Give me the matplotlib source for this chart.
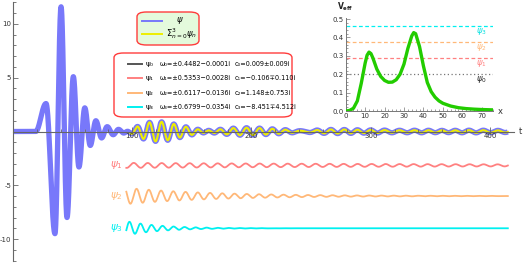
import numpy as np
import matplotlib
matplotlib.use("Agg")
import matplotlib.pyplot as plt
from matplotlib.patches import FancyBboxPatch
from matplotlib.ticker import MultipleLocator, FixedLocator

plt.rcParams["axes.unicode_minus"] = False

# ---------------- data ----------------
# early part of the full waveform psi: extrema (time, value)
early_t = [0, 19, 27.7, 35.2, 40.3, 45.3, 50.6, 55.3, 60.2, 64.8, 69.5, 74.3, 79.0, 84.0, 88.5, 93.0, 97.0]
early_v = [0, 0, 2.6, -9.5, 11.6, -8.0, 5.1, -3.3, 2.2, -1.3, 1.0, -0.6, 0.45, -0.3, 0.2, -0.15, 0.1]

# quasinormal modes from the legend: omega = ±omega_re - i omega_im, c = c_re ± i c_im
omega_re = [0.4482, 0.5353, 0.6117, 0.6799]
omega_im = [0.0001, 0.0028, 0.0136, 0.0354]
c_re = [0.009, -0.106, 1.148, -8.451]
c_im = [0.009, -0.110, 0.753, -4.512]
legend_rows = [
    ("ψ₀", "ω₀=±0.4482−0.0001i", "c₀=0.009±0.009i"),
    ("ψ₁", "ω₁=±0.5353−0.0028i", "c₁=−0.106∓0.110i"),
    ("ψ₂", "ω₂=±0.6117−0.0136i", "c₂=1.148±0.753i"),
    ("ψ₃", "ω₃=±0.6799−0.0354i", "c₃=−8.451∓4.512i"),
]

# effective potential
veff_x = [0, 2, 4, 6, 8, 10, 11, 12, 13, 14, 16, 18, 20, 22, 24, 26, 28, 30, 32, 34, 35, 36,
          38, 40, 42, 44, 46, 48, 50, 54, 58, 62, 66, 70, 76]
veff_v = [0.0, 0.003, 0.015, 0.055, 0.15, 0.26, 0.303, 0.32, 0.312, 0.288, 0.228, 0.188, 0.166,
          0.156, 0.157, 0.17, 0.2, 0.255, 0.34, 0.408, 0.426, 0.42, 0.35, 0.245, 0.155, 0.105,
          0.075, 0.055, 0.042, 0.027, 0.018, 0.013, 0.010, 0.008, 0.006]

# ---------------- styles ----------------
mode_colors = ["#555555", "#ff8080", "#ffb878", "#00f0f0"]
offsets = [None, -3.15, -6.0, -9.0]
blue = "#7878fa"
yellow = "#eeee00"
red_border = "#ff3c3c"

def mode(n, t):
    return 2 * np.exp(-omega_im[n] * t) * (c_re[n] * np.cos(omega_re[n] * t)
                                            + c_im[n] * np.sin(omega_re[n] * t))

def early(t):
    et = np.array(early_t); ev = np.array(early_v)
    out = np.zeros_like(t)
    for i in range(len(et) - 1):
        m = (t >= et[i]) & (t <= et[i + 1])
        s = (t[m] - et[i]) / (et[i + 1] - et[i])
        out[m] = ev[i] + (ev[i + 1] - ev[i]) * (1 - np.cos(np.pi * s)) / 2
    return out

fig = plt.figure(figsize=(5.25, 2.63), dpi=100)
ax = fig.add_axes([0, 0, 1, 1])
ax.set_xlim(-10.9, 429.4)
ax.set_ylim(-12.23, 12.23)
ax.patch.set_alpha(0)

t = np.linspace(0, 415, 6000)
qsum = sum(mode(n, t) for n in range(4))
w = np.clip((t - 92) / 7, 0, 1)
w = (1 - np.cos(np.pi * w)) / 2
psi = (1 - w) * early(np.minimum(t, 97)) + w * qsum
ax.plot(t, psi, color=blue, lw=3.8, solid_capstyle="butt", zorder=3)

ty = t[t >= 98.5]
ax.plot(ty, sum(mode(n, ty) for n in range(4)), color=yellow, lw=1.5, zorder=4)

tm = t[t >= 95]
for n in range(1, 4):
    ax.plot(tm, mode(n, tm) + offsets[n], color=mode_colors[n], lw=1.3, zorder=3)
    ax.text(87, offsets[n], r"$\psi_{%d}$" % n, color=mode_colors[n], fontsize=7.5,
            ha="center", va="center")

# axes styling (Mathematica-like axes through origin)
for s in ["top", "right"]:
    ax.spines[s].set_visible(False)
ax.spines["left"].set_position(("data", 0))
ax.spines["bottom"].set_position(("data", 0))
ax.spines["left"].set_bounds(-12, 12)
ax.spines["bottom"].set_bounds(0, 420)
for s in ["left", "bottom"]:
    ax.spines[s].set_color("#666666")
    ax.spines[s].set_linewidth(0.8)
    ax.spines[s].set_zorder(5)
ax.xaxis.set_zorder(6)
ax.yaxis.set_zorder(6)
ax.set_yticks([-10, -5, 5, 10])
ax.set_xticks([100, 200, 300, 400])
ax.yaxis.set_minor_locator(FixedLocator([v for v in range(-12, 13) if v % 5 != 0]))
ax.xaxis.set_minor_locator(FixedLocator([v for v in range(20, 420, 20) if v % 100 != 0]))
ax.tick_params(which="both", direction="in", colors="#666666", labelcolor="#333333",
               labelsize=5, width=0.6)
ax.tick_params(which="major", length=3.5, pad=1.2)
ax.tick_params(which="minor", length=2)
ax.text(424, 0, "t", fontsize=6, ha="left", va="center", color="#333333")

# legend boxes
def px_box(x0, y0, x1, y1, fc):
    H = 263.0; W = 525.0
    p = FancyBboxPatch((x0 / W, 1 - y1 / H), (x1 - x0) / W, (y1 - y0) / H,
                       boxstyle="round,pad=0,rounding_size=0.018", transform=fig.transFigure,
                       facecolor=fc, edgecolor=red_border, lw=1.0, zorder=10)
    fig.add_artist(p)

def fx(x): return x / 525.0
def fy(y): return 1 - y / 263.0

px_box(137, 12, 199, 45, "#e4fadc")
fig.add_artist(plt.Line2D([fx(142), fx(162)], [fy(20.7), fy(20.7)], color=blue, lw=1.4,
                          transform=fig.transFigure, zorder=11))
fig.add_artist(plt.Line2D([fx(142), fx(162)], [fy(33.7), fy(33.7)], color=yellow, lw=1.4,
                          transform=fig.transFigure, zorder=11))
fig.text(fx(180), fy(20.7), r"$\psi$", fontsize=6, ha="center", va="center", zorder=12)
fig.text(fx(165.5), fy(33.7), r"$\Sigma_{n=0}^{3}\psi_n$", fontsize=6, ha="left",
         va="center", zorder=12)

px_box(114, 53, 292, 117, "white")
row_y = [64, 78.3, 92.6, 106.8]
for i, (a, b, c) in enumerate(legend_rows):
    yy = fy(row_y[i])
    fig.add_artist(plt.Line2D([fx(128), fx(142)], [yy, yy], color=mode_colors[i], lw=1.4,
                              transform=fig.transFigure, zorder=11))
    fig.text(fx(145.5), yy, a, fontsize=5.4, ha="left", va="center", zorder=12)
    fig.text(fx(160), yy, b, fontsize=4.7, ha="left", va="center", zorder=12)
    fig.text(fx(235), yy, c, fontsize=4.7, ha="left", va="center", zorder=12)

# ---------------- inset: effective potential ----------------
x_per = 1.943
ins = fig.add_axes([345.7 / 525, (263 - 111) / 263, 76 * x_per / 525, 0.505 * 184 / 263])
ins.patch.set_alpha(0)
ins.set_xlim(0, 76)
ins.set_ylim(0, 0.505)
levels = [w_ ** 2 for w_ in omega_re]
styles = [(0, (1, 2)), (0, (3, 2)), (0, (3, 2)), (0, (3, 2))]
lab_colors = ["#222222", "#ff8080", "#ffb878", "#00e0e0"]
for n in range(4):
    ins.plot([0, 76], [levels[n], levels[n]], color=mode_colors[n] if n else "#777777",
             lw=0.9, linestyle=styles[n], zorder=2)
    ins.text(70, levels[n] - 0.03, r"$\psi_{%d}$" % n, color=lab_colors[n], fontsize=6,
             ha="center", va="center")
ins.plot(veff_x, veff_v, color="#22cc00", lw=2.4, zorder=3, solid_capstyle="round")
for s in ["top", "right"]:
    ins.spines[s].set_visible(False)
for s in ["left", "bottom"]:
    ins.spines[s].set_color("#777777")
    ins.spines[s].set_linewidth(0.7)
ins.set_xticks(range(0, 80, 10))
ins.set_yticks([0, 0.1, 0.2, 0.3, 0.4, 0.5])
ins.set_yticklabels(["0.0", "0.1", "0.2", "0.3", "0.4", "0.5"])
ins.xaxis.set_minor_locator(MultipleLocator(2))
ins.yaxis.set_minor_locator(MultipleLocator(0.02))
ins.tick_params(which="both", direction="in", colors="#777777", labelcolor="#333333",
                labelsize=5, width=0.5, pad=1.5)
ins.tick_params(which="major", length=3)
ins.tick_params(which="minor", length=1.5)
ins.text(0, 0.535, r"$\mathbf{V_{eff}}$", fontsize=5.5, ha="center", va="bottom",
         color="#222222", clip_on=False)
ins.text(79.5, 0, "x", fontsize=6, ha="center", va="center", color="#333333", clip_on=False)

fig.savefig("out.png", dpi=100)
